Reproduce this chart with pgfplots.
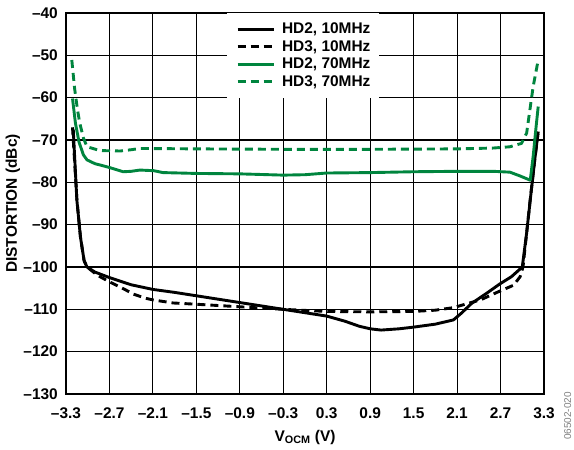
\documentclass[border=0pt]{standalone}
\usepackage{pgfplots}
\pgfplotsset{compat=1.18}
\usetikzlibrary{calc}
\usepackage{fontspec}
\setmainfont{Liberation Sans}
\definecolor{adgreen}{RGB}{0,133,62}
\begin{document}
\begin{tikzpicture}
\begin{axis}[
  name=ax,
  scale only axis,
  width=478bp, height=381bp,
  xmin=-3.3, xmax=3.3, ymin=-130, ymax=-40,
  xtick={-3.3,-2.7,-2.1,-1.5,-0.9,-0.3,0.3,0.9,1.5,2.1,2.7,3.3},
  xticklabels={--3.3,--2.7,--2.1,--1.5,--0.9,--0.3,0.3,0.9,1.5,2.1,2.7,3.3},
  ytick={-130,-120,-110,-100,-90,-80,-70,-60,-50,-40},
  yticklabels={--130,--120,--110,--100,--90,--80,--70,--60,--50,--40},
  major tick length=0pt,
  grid=major,
  grid style={black, line width=1.1bp},
  axis line style={black, line width=2.2bp},
  tick label style={font=\bfseries\fontsize{15.5}{15.5}\selectfont, inner sep=0pt},
  xticklabel style={anchor=center, yshift=-19bp},
  yticklabel style={anchor=east, xshift=-8bp},
  xlabel={V\textsubscript{OCM} (V)},
  ylabel={DISTORTION (dBc)},
  label style={font=\bfseries\fontsize{15.5}{15.5}\selectfont},
  xlabel style={at={(axis description cs:0.5,-0.1129)}, anchor=center},
  ylabel style={at={(axis description cs:-0.1109,0.5)}, anchor=center},
  legend style={
    at={(axis description cs:0.3368,1)}, anchor=north west,
    draw=none, fill=white, inner sep=9bp,
    font=\bfseries\fontsize{15.5}{15.5}\selectfont,
    nodes={inner sep=0pt, text height=11.5bp, text depth=3bp},
    row sep=3bp,
    /tikz/every odd column/.append style={column sep=7bp},
  },
  legend cell align=left,
  legend image code/.code={\draw[#1] (0bp,0bp) -- (36bp,0bp);},
  every axis plot/.append style={line width=2.9bp, line join=round},
]
\addplot[black] coordinates {
(-3.2,-67.5) (-3.15,-84.2) (-3.1,-93) (-3.05,-98.5) (-3.01,-100) (-2.9,-101.2)
(-2.7,-102.5) (-2.4,-104.2) (-2.1,-105.3) (-1.8,-106) (-1.5,-106.8) (-1.2,-107.6)
(-0.9,-108.4) (-0.6,-109.2) (-0.3,-110) (0,-110.8) (0.3,-111.6) (0.55,-112.8)
(0.75,-114) (0.9,-114.6) (1.05,-114.9) (1.3,-114.6) (1.5,-114.2) (1.8,-113.5)
(2.05,-112.5) (2.16,-110.9) (2.3,-108.6) (2.5,-106.3) (2.69,-104) (2.85,-102.3)
(3.0,-100) (3.06,-92) (3.11,-84.2) (3.17,-75) (3.22,-68)
};
\addlegendentry{HD2, 10MHz}
\addplot[black, dash pattern=on 8bp off 5bp] coordinates {
(-3.21,-67) (-3.15,-84) (-3.1,-93) (-3.05,-98.5) (-3.01,-100) (-2.9,-101.5)
(-2.83,-102.3) (-2.7,-103.5) (-2.5,-105.2) (-2.37,-106.4) (-2.2,-107.4) (-2.09,-107.8)
(-1.82,-108.5) (-1.5,-108.8) (-0.9,-109.4) (-0.3,-110) (0.3,-110.5) (0.9,-110.6)
(1.5,-110.5) (1.8,-110.2) (2.05,-109.6) (2.25,-108.6) (2.42,-107.8) (2.65,-106)
(2.88,-104.3) (2.97,-102.3) (3.01,-100) (3.06,-92) (3.11,-84) (3.17,-75) (3.22,-68)
};
\addlegendentry{HD3, 10MHz\rule[-8.8bp]{0pt}{1bp}}
\addplot[adgreen] coordinates {
(-3.21,-60.2) (-3.17,-66) (-3.12,-70.5) (-3.06,-73.5) (-3.01,-74.7) (-2.9,-75.6)
(-2.83,-75.9) (-2.7,-76.5) (-2.51,-77.5) (-2.4,-77.4) (-2.28,-77.1) (-2.09,-77.25)
(-1.96,-77.7) (-1.5,-77.9) (-0.9,-78) (-0.3,-78.3) (0,-78.2) (0.3,-77.8) (0.9,-77.7)
(1.5,-77.5) (2.1,-77.4) (2.6,-77.4) (2.83,-77.6) (2.97,-78.5) (3.11,-79.5)
(3.15,-73.9) (3.19,-67) (3.22,-62.1)
};
\addlegendentry{HD2, 70MHz}
\addplot[adgreen, dash pattern=on 8bp off 5bp] coordinates {
(-3.22,-51.1) (-3.18,-58) (-3.14,-63) (-3.11,-66) (-3.06,-69.5) (-3.01,-71.6)
(-2.83,-72.5) (-2.55,-72.6) (-2.4,-72.3) (-2.28,-72.0) (-1.5,-72.1) (-0.3,-72.2)
(0.9,-72.2) (2.1,-72.1) (2.6,-71.9) (2.83,-71.6) (2.99,-70.8) (3.06,-68.4)
(3.15,-57.4) (3.22,-51.1)
};
\addlegendentry{HD3, 70MHz}
\end{axis}
\node[rotate=90, anchor=north east, font=\fontsize{10}{10}\selectfont, text=gray, inner sep=0pt]
  at ($(ax.south east)+(20bp,2bp)$) {06502-020};
\pgfresetboundingbox
\path ($(ax.south west)+(-66bp,-56bp)$) rectangle ($(ax.north east)+(30bp,13bp)$);
\end{tikzpicture}
\end{document}
